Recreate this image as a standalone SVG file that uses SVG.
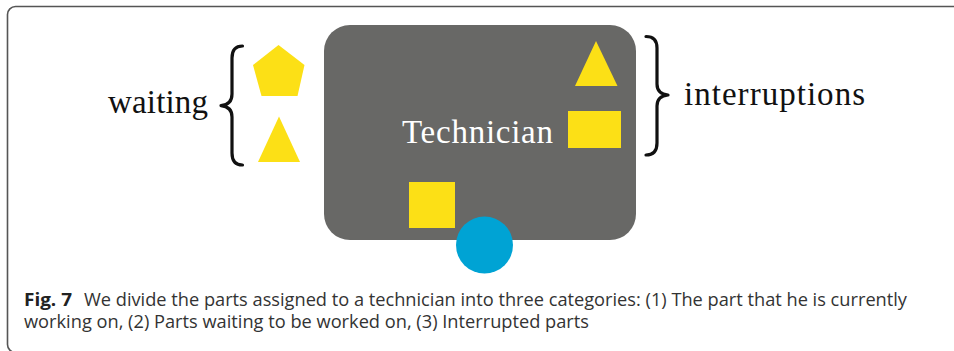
<svg xmlns="http://www.w3.org/2000/svg" width="954" height="351" viewBox="0 0 954 351">
<style>
.lbl{font-family:"Liberation Serif","Times New Roman",serif;font-size:33px;fill:#111}
.yel{fill:#FCE016}
.brace{fill:none;stroke:#111;stroke-width:3.2;stroke-linecap:round;stroke-linejoin:round}
.cap{font-family:"Open Sans","Noto Sans",sans-serif;font-size:17.5px;fill:#333}
.capb{font-family:"Open Sans","Noto Sans",sans-serif;font-size:17.5px;font-weight:bold;fill:#222}
</style>
<rect x="0" y="0" width="954" height="351" fill="#ffffff"/>
<rect id="frame" x="7.5" y="6.5" width="970" height="346" rx="8" ry="8" fill="none" stroke="#555" stroke-width="1.6"/>
<g id="technician">
<rect x="324" y="25" width="312" height="215" rx="26" ry="26" fill="#686866"/>
<text x="402" y="143" textLength="151" style="font-family:'Liberation Serif','Times New Roman',serif;font-size:33px;fill:#ffffff">Technician</text>
</g>
<g id="waiting-pentagon"><polygon class="yel" points="278.5,45 304.5,65 297.5,96 261.5,96 253,65"/></g>
<g id="waiting-triangle"><polygon class="yel" points="279,116.5 300,162 258,162"/></g>
<g id="interrupt-triangle"><polygon class="yel" points="596,41 617.5,86 575,86"/></g>
<g id="interrupt-rect"><rect class="yel" x="568" y="111" width="53" height="37"/></g>
<g id="current-square"><rect class="yel" x="409" y="182" width="46" height="46"/></g>
<g id="technician-circle"><circle cx="484.5" cy="245" r="28.5" fill="#00A3D4"/></g>
<g id="waiting-label">
<text class="lbl" x="108" y="113" textLength="100">waiting</text>
<path class="brace" d="M242.5,46 C235,46 232,50 232,58 L232,94 C232,101 228,105 221,105.7 C228,106.4 232,110 232,117 L232,153 C232,161 235,165 242.5,165"/>
</g>
<g id="interruptions-label">
<text class="lbl" x="684" y="105" textLength="181">interruptions</text>
<path class="brace" d="M646,36.5 C653.5,36.5 657,40 657,48 L657,84 C657,91 661,94.3 668,95 C661,95.7 657,99 657,106 L657,143 C657,151 653.5,155 646,155"/>
</g>
<g id="connectors"></g>
<g id="caption">
<text class="capb" x="24" y="306" textLength="48" lengthAdjust="spacingAndGlyphs">Fig. 7</text>
<text class="cap" x="84" y="306" textLength="823" lengthAdjust="spacingAndGlyphs">We divide the parts assigned to a technician into three categories: (1) The part that he is currently</text>
<text class="cap" x="24" y="328" textLength="565" lengthAdjust="spacingAndGlyphs">working on, (2) Parts waiting to be worked on, (3) Interrupted parts</text>
</g>
</svg>
